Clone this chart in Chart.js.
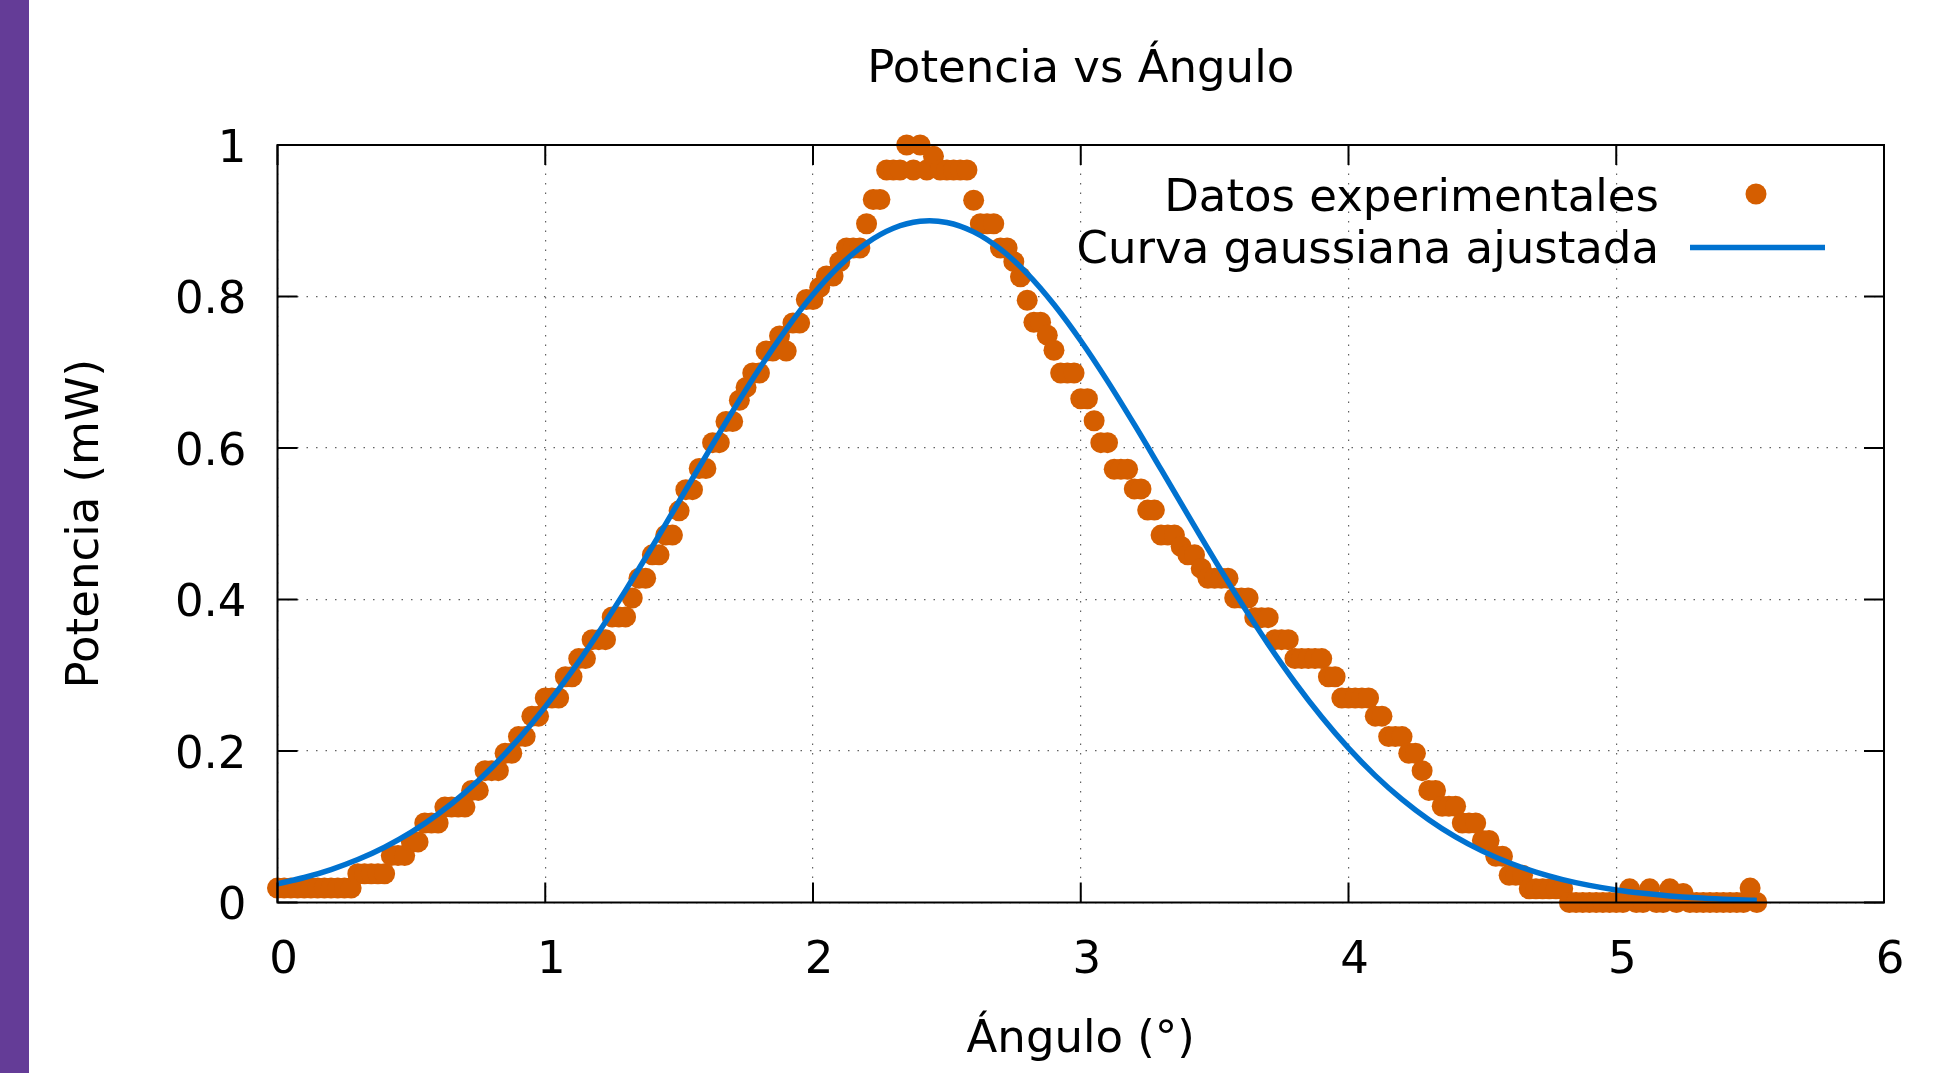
<!DOCTYPE html>
<html>
<head>
<meta charset="utf-8">
<script src="https://cdn.jsdelivr.net/npm/chart.js@4.4.1/dist/chart.umd.min.js"></script>
<style>
html,body{margin:0;padding:0;background:#fff;overflow:hidden}
canvas{display:block}
</style>
</head>
<body>
<canvas id="c" width="1960" height="1073"></canvas>
<script>
// ---- Data ----
const angulosDatos = [
  0,0.025,0.05,0.075,0.1,0.125,0.15,0.175,0.2,0.225,
  0.25,0.275,0.3,0.325,0.35,0.375,0.4,0.425,0.45,0.475,
  0.5,0.525,0.55,0.575,0.6,0.625,0.65,0.675,0.7,0.725,
  0.75,0.775,0.8,0.825,0.85,0.875,0.9,0.925,0.95,0.975,
  1,1.025,1.05,1.075,1.1,1.125,1.15,1.175,1.2,1.225,
  1.25,1.275,1.3,1.325,1.35,1.375,1.4,1.425,1.45,1.475,
  1.5,1.525,1.55,1.575,1.6,1.625,1.65,1.675,1.7,1.725,
  1.75,1.775,1.8,1.825,1.85,1.875,1.9,1.925,1.95,1.975,
  2,2.025,2.05,2.075,2.1,2.125,2.15,2.175,2.2,2.225,
  2.25,2.275,2.3,2.325,2.35,2.375,2.4,2.425,2.45,2.475,
  2.5,2.525,2.55,2.575,2.6,2.625,2.65,2.675,2.7,2.725,
  2.75,2.775,2.8,2.825,2.85,2.875,2.9,2.925,2.95,2.975,
  3,3.025,3.05,3.075,3.1,3.125,3.15,3.175,3.2,3.225,
  3.25,3.275,3.3,3.325,3.35,3.375,3.4,3.425,3.45,3.475,
  3.5,3.525,3.55,3.575,3.6,3.625,3.65,3.675,3.7,3.725,
  3.75,3.775,3.8,3.825,3.85,3.875,3.9,3.925,3.95,3.975,
  4,4.025,4.05,4.075,4.1,4.125,4.15,4.175,4.2,4.225,
  4.25,4.275,4.3,4.325,4.35,4.375,4.4,4.425,4.45,4.475,
  4.5,4.525,4.55,4.575,4.6,4.625,4.65,4.675,4.7,4.725,
  4.75,4.775,4.8,4.825,4.85,4.875,4.9,4.925,4.95,4.975,
  5,5.025,5.05,5.075,5.1,5.125,5.15,5.175,5.2,5.225,
  5.25,5.275,5.3,5.325,5.35,5.375,5.4,5.425,5.45,5.475,
  5.5,5.525
];
const potenciaDatos = [
  0.019,0.019,0.019,0.019,0.019,0.019,0.019,0.019,0.019,0.019,
  0.019,0.019,0.038,0.038,0.038,0.038,0.038,0.062,0.062,0.062,
  0.08,0.08,0.105,0.105,0.105,0.126,0.126,0.126,0.126,0.148,
  0.148,0.174,0.174,0.174,0.197,0.197,0.219,0.219,0.246,0.246,
  0.27,0.27,0.27,0.298,0.298,0.322,0.322,0.347,0.347,0.347,
  0.377,0.377,0.377,0.402,0.428,0.428,0.459,0.459,0.485,0.485,
  0.517,0.545,0.545,0.573,0.573,0.607,0.607,0.635,0.635,0.663,
  0.68,0.699,0.699,0.728,0.728,0.748,0.728,0.765,0.765,0.796,
  0.796,0.812,0.827,0.827,0.846,0.864,0.864,0.864,0.896,0.928,
  0.928,0.967,0.967,0.967,1.0,0.967,1.0,0.967,0.985,0.967,
  0.967,0.967,0.967,0.967,0.927,0.896,0.896,0.896,0.864,0.864,
  0.846,0.826,0.795,0.766,0.766,0.749,0.729,0.699,0.699,0.699,
  0.665,0.665,0.636,0.607,0.607,0.572,0.572,0.572,0.546,0.546,
  0.518,0.518,0.485,0.485,0.485,0.47,0.459,0.459,0.441,0.428,
  0.428,0.428,0.428,0.402,0.402,0.402,0.376,0.376,0.376,0.347,
  0.347,0.347,0.322,0.322,0.322,0.322,0.322,0.298,0.298,0.27,
  0.27,0.27,0.27,0.27,0.246,0.246,0.219,0.219,0.219,0.197,
  0.197,0.174,0.148,0.148,0.127,0.127,0.127,0.105,0.105,0.105,
  0.082,0.082,0.061,0.061,0.036,0.036,0.036,0.018,0.018,0.018,
  0.018,0.018,0.018,0,0,0,0,0,0,0,
  0,0,0.018,0,0,0.018,0,0,0.018,0,
  0.012,0,0,0,0,0,0,0,0,0,
  0.019,0
];
const angulosCurva = [
  0,0.1,0.2,0.3,0.4,0.5,0.6,0.7,0.8,0.9,
  1,1.1,1.2,1.3,1.4,1.5,1.6,1.7,1.8,1.9,
  2,2.1,2.2,2.3,2.4,2.5,2.6,2.7,2.8,2.9,
  3,3.1,3.2,3.3,3.4,3.5,3.6,3.7,3.8,3.9,
  4,4.1,4.2,4.3,4.4,4.5,4.6,4.7,4.8,4.9,
  5,5.1,5.2,5.3,5.4,5.5,5.525
];
const potenciaCurva = [
  0.0247,0.0330,0.0435,0.0567,0.0730,0.0929,0.1168,0.1450,0.1779,0.2156,
  0.2582,0.3054,0.3569,0.4121,0.4700,0.5297,0.5897,0.6485,0.7048,0.7566,
  0.8025,0.8408,0.8704,0.8901,0.8993,0.8977,0.8853,0.8625,0.8302,0.7894,
  0.7416,0.6883,0.6311,0.5717,0.5117,0.4524,0.3952,0.3410,0.2907,0.2449,
  0.2038,0.1675,0.1361,0.1092,0.0865,0.0678,0.0525,0.0401,0.0303,0.0226,
  0.0166,0.0121,0.0087,0.0062,0.0044,0.0030,0.0028
];
const xTickLabels = ['0','1','2','3','4','5','6'];
const yTickLabels = ['0','0.2','0.4','0.6','0.8','1'];
const titulo = 'Potencia vs Ángulo';
const tituloX = 'Ángulo (°)';
const tituloY = 'Potencia (mW)';
const nombreDatos = 'Datos experimentales';
const nombreCurva = 'Curva gaussiana ajustada';

// ---- Styling ----
const FONT = 'DejaVu Sans';
const FS = 45;
const ORANGE = '#D55E00';
const BLUE = '#0072D0';

Chart.defaults.font.family = FONT;
Chart.defaults.font.size = FS;
Chart.defaults.color = '#000';

const pageDeco = {
  id: 'pageDeco',
  beforeDraw(chart) {
    const ctx = chart.ctx;
    ctx.save();
    ctx.fillStyle = '#ffffff';
    ctx.fillRect(0, 0, chart.width, chart.height);
    ctx.fillStyle = '#643C97';
    ctx.fillRect(0, 0, 29, chart.height);
    ctx.restore();
  }
};

const frame = {
  id: 'frame',
  afterDatasetsDraw(chart) {
    const {ctx, chartArea: a, scales} = chart;
    ctx.save();
    ctx.strokeStyle = '#000';
    ctx.lineWidth = 2;
    ctx.lineCap = 'butt';
    ctx.strokeRect(a.left, a.top, a.right - a.left, a.bottom - a.top);
    const tl = 20;
    ctx.beginPath();
    scales.x.ticks.forEach(t => {
      const px = scales.x.getPixelForValue(t.value);
      ctx.moveTo(px, a.bottom); ctx.lineTo(px, a.bottom - tl);
      ctx.moveTo(px, a.top); ctx.lineTo(px, a.top + tl);
    });
    scales.y.ticks.forEach(t => {
      const py = scales.y.getPixelForValue(t.value);
      ctx.moveTo(a.left, py); ctx.lineTo(a.left + tl, py);
      ctx.moveTo(a.right, py); ctx.lineTo(a.right - tl, py);
    });
    ctx.stroke();
    ctx.restore();
  }
};

const keyBox = {
  id: 'keyBox',
  afterDraw(chart) {
    const {ctx, chartArea: a} = chart;
    const ds = chart.data.datasets;
    const textRight = a.right - 225;
    const row1 = a.top + 54;
    const row2 = a.top + 106.5;
    ctx.save();
    ctx.font = FS + 'px "' + FONT + '"';
    ctx.fillStyle = '#000';
    ctx.textAlign = 'right';
    ctx.textBaseline = 'middle';
    ctx.fillText(ds[0].label, textRight, row1);
    ctx.fillText(ds[1].label, textRight, row2);
    ctx.fillStyle = ds[0].backgroundColor;
    ctx.beginPath();
    ctx.arc(a.right - 128, a.top + 49, 10.5, 0, Math.PI * 2);
    ctx.fill();
    ctx.strokeStyle = ds[1].borderColor;
    ctx.lineWidth = 5.5;
    ctx.beginPath();
    ctx.moveTo(a.right - 194, a.top + 102.5);
    ctx.lineTo(a.right - 59, a.top + 102.5);
    ctx.stroke();
    ctx.restore();
  }
};

new Chart(document.getElementById('c'), {
  type: 'scatter',
  data: {
    datasets: [
      {
        label: nombreDatos,
        data: angulosDatos.map((x, i) => ({x: x, y: potenciaDatos[i]})),
        backgroundColor: ORANGE,
        borderColor: ORANGE,
        pointBackgroundColor: ORANGE,
        pointBorderWidth: 0,
        pointRadius: 10.5,
        pointHoverRadius: 10.5,
        showLine: false,
        clip: false,
        order: 1
      },
      {
        label: nombreCurva,
        data: angulosCurva.map((x, i) => ({x: x, y: potenciaCurva[i]})),
        borderColor: BLUE,
        backgroundColor: BLUE,
        borderWidth: 5.5,
        pointRadius: 0,
        pointHoverRadius: 0,
        showLine: true,
        tension: 0.35,
        fill: false,
        clip: false,
        order: 0
      }
    ]
  },
  options: {
    responsive: false,
    devicePixelRatio: 1,
    animation: false,
    events: [],
    layout: {padding: {left: 0, right: 76, top: 0, bottom: 0}},
    plugins: {
      legend: {display: false},
      tooltip: {enabled: false},
      title: {
        display: true,
        fullSize: false,
        text: titulo,
        color: '#000',
        font: {family: FONT, size: FS, weight: 'normal'},
        padding: {top: 43, bottom: 48}
      }
    },
    scales: {
      x: {
        type: 'linear',
        min: 0, max: 6,
        afterFit(s) { s.height = 170.5; },
        ticks: {
          stepSize: 1,
          padding: 32,
          labelOffset: 6,
          color: '#000',
          font: {family: FONT, size: FS},
          maxRotation: 0,
          callback: (v, i) => xTickLabels[i]
        },
        grid: {color: 'rgba(70,70,70,0.85)', lineWidth: 1.2, drawTicks: false},
        border: {display: false, dash: [1.5, 8]},
        title: {
          display: true, text: tituloX, color: '#000',
          font: {family: FONT, size: FS},
          padding: {top: 0, bottom: 6}
        }
      },
      y: {
        type: 'linear',
        min: 0, max: 1,
        afterFit(s) { s.width = 277.5; },
        ticks: {
          stepSize: 0.2,
          padding: 31,
          labelOffset: 5,
          color: '#000',
          font: {family: FONT, size: FS},
          callback: (v, i) => yTickLabels[i]
        },
        grid: {color: 'rgba(70,70,70,0.85)', lineWidth: 1.2, drawTicks: false},
        border: {display: false, dash: [1.5, 8]},
        title: {
          display: true, text: tituloY, color: '#000',
          font: {family: FONT, size: FS},
          padding: {top: 59, bottom: 0}
        }
      }
    }
  },
  plugins: [pageDeco, frame, keyBox]
});
</script>
</body>
</html>
